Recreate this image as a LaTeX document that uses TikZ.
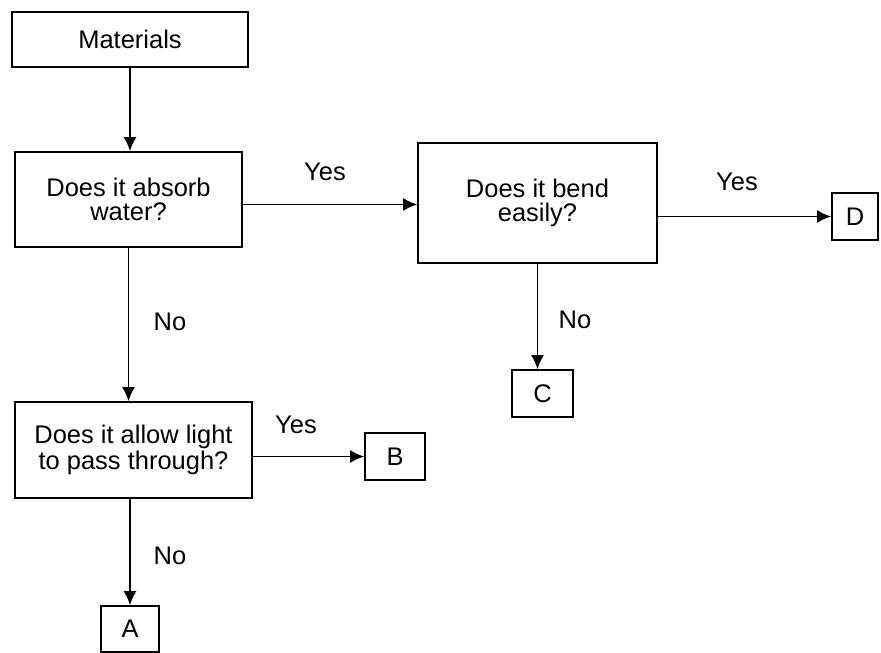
\documentclass[tikz,border=0pt]{standalone}
\usepackage{fontspec}
\setmainfont{Liberation Sans}
\usepackage{tikz}
\usetikzlibrary{arrows.meta}
\usetikzlibrary{calc}
\tikzset{
  qbox/.style={draw=black,line width=1pt,align=center,inner sep=0pt,
    font=\fontsize{14.5}{13.5}\selectfont},
  abox/.style={draw=black,line width=1pt,inner sep=0pt,
    font=\fontsize{14.5}{13.5}\selectfont},
  lbl/.style={font=\fontsize{14.5}{13.5}\selectfont},
  flow/.style={line width=0.9pt,-{Latex[length=2.8mm,width=2.6mm]}}
}

\begin{document}
\begin{tikzpicture}[x=0.02cm,y=-0.02cm]
            \useasboundingbox (0,0) rectangle (881,652);
            % question boxes
            \node[qbox,minimum width=4.72cm,minimum height=1.1cm] (mat) at (130,39.5){Materials};
            \node[qbox,minimum width=4.54cm,minimum height=1.9cm] (absorb) at (128.5,199.5){Does it absorb\\water?};
            \node[qbox,minimum width=4.78cm,minimum height=2.4cm] (bend) at (537.5,203){Does it bend\\easily?};
            \node[qbox,minimum width=4.74cm,minimum height=1.92cm] (light) at (133.5,450){Does it allow light\\to pass through?};
            % answer boxes
            \node[abox,minimum width=0.92cm,minimum height=0.94cm] (D) at (855,216.5){D};
            \node[abox,minimum width=1.22cm,minimum height=0.94cm] (C) at (542.5,393.5){C};
            \node[abox,minimum width=1.2cm,minimum height=0.94cm] (B) at (395,456.5){B};
            \node[abox,minimum width=1.16cm,minimum height=0.92cm] (A) at (130,629){A};
            % arrows
            \draw[flow] (mat.south) -- (mat.south |- absorb.north);
            \draw[flow] ([yshift=-0.1cm]absorb.east) -- ([yshift=-0.1cm]absorb.east -| bend.west);
            \draw[flow] (bend.east |- D.west) -- (D.west);
            \draw[flow] (bend.south) -- (bend.south |- C.north);
            \draw[flow] (absorb.south) -- (absorb.south |- light.north);
            \draw[flow] (light.east |- B.west) -- (B.west);
            \draw[flow] (light.south -| A.north) -- (A.north);
            % yes / no labels
            \node[lbl] (yes1) at (325,172){Yes};
            \node[lbl] (yes2) at (737,182){Yes};
            \node[lbl] (yes3) at (296,425){Yes};
            \node[lbl] (no1) at (170,322){No};
            \node[lbl] (no2) at (575,320){No};
            \node[lbl] (no3) at (170,556){No};
        \end{tikzpicture}
\end{document}
